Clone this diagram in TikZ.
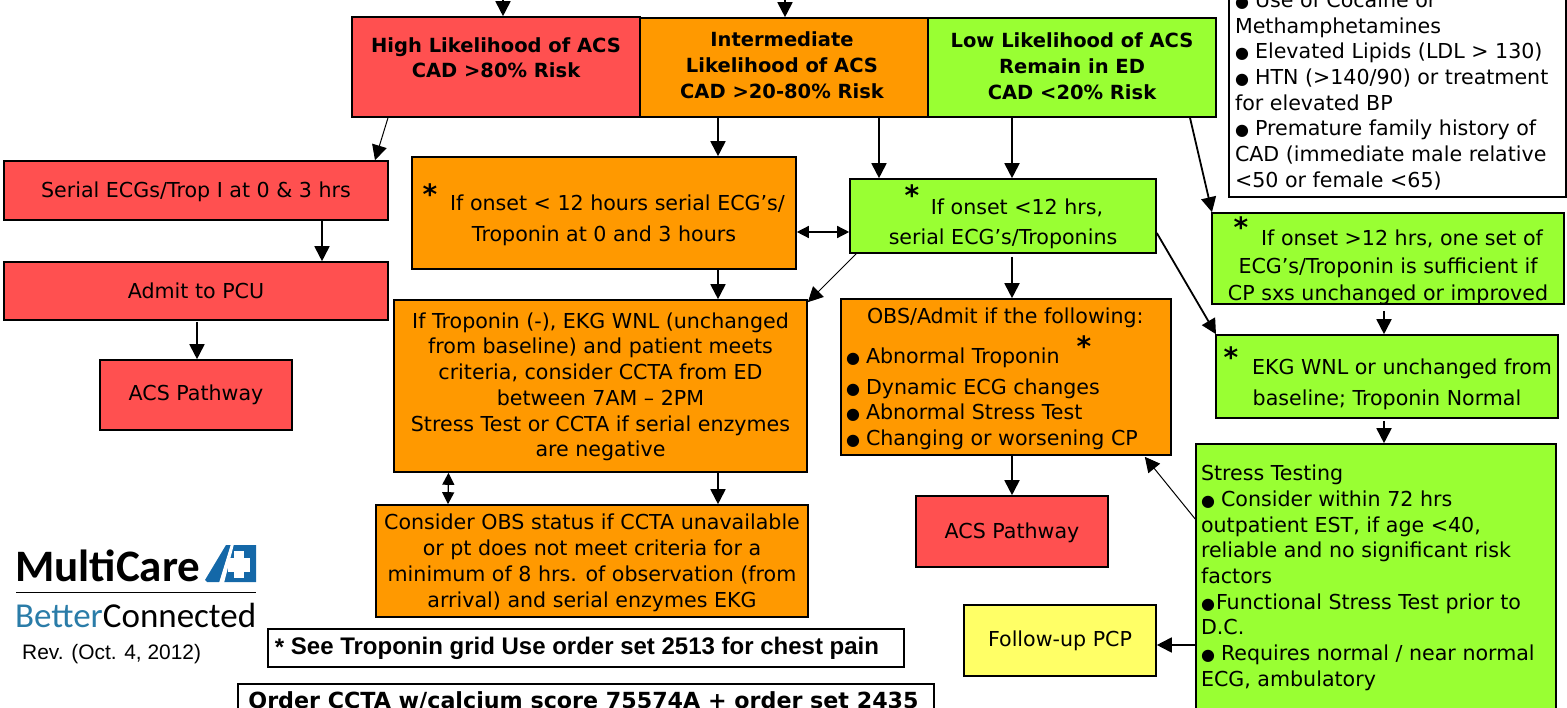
\documentclass[tikz,border=0pt]{standalone}
\usepackage{fontspec}
\usetikzlibrary{arrows.meta}
\setmainfont{DejaVu Sans}
\newfontfamily\helv{Liberation Sans}
\newfontfamily\logofont{Carlito}
\definecolor{cred}{HTML}{FF5050}
\definecolor{corange}{HTML}{FF9900}
\definecolor{cgreen}{HTML}{99FF33}
\definecolor{cyellow}{HTML}{FFFF66}
\definecolor{logoblue}{HTML}{1468A8}
\definecolor{logoteal}{HTML}{2A7CA8}
% text block placed relative to the node centre, not affecting node size
\newcommand{\ml}[5]{\raisebox{\dimexpr#2pt-6pt\relax}[0pt][0pt]{\makebox[0pt]{\hspace{#1pt}\hspace{#1pt}\parbox[c]{#4pt}{#3\fontsize{20.6}{25.7}\selectfont #5}}}}
\newcommand{\bl}{\makebox[20pt][l]{\fontsize{16}{16}\selectfont ●}}
\newcommand{\bln}{\makebox[15pt][l]{\fontsize{16}{16}\selectfont ●}}
\newcommand{\bfs}{\fontsize{19.5}{25.7}\selectfont}
\tikzset{
  x=1pt,y=-1pt,
  box/.style={draw=black,line width=1.6pt,inner sep=0pt,font=\fontsize{20.6}{25.7}\selectfont},
  redbox/.style={box,fill=cred},
  orangebox/.style={box,fill=corange},
  greenbox/.style={box,fill=cgreen},
  yellowbox/.style={box,fill=cyellow},
  whitebox/.style={box,fill=white},
  star/.style={inner sep=0pt,font=\fontsize{28}{28}\selectfont\bfseries},
  arr/.style={draw=black,line width=1.8pt,-{Triangle[width=15pt,length=15pt]}},
  thinarr/.style={draw=black,line width=1pt,-{Triangle[width=15pt,length=15pt]}},
  darr/.style={draw=black,line width=1.4pt,{Triangle[width=12pt,length=12pt]}-{Triangle[width=12pt,length=12pt]}},
}
\begin{document}
\begin{tikzpicture}
\path[use as bounding box,clip] (0,0) rectangle (1567,708);
\coordinate (top1) at (503,-5);
\coordinate (top2) at (785,-5);

\node[redbox,minimum width=288pt,minimum height=100pt] (high) at (496,67) {\ml{0}{10}{\centering\bfseries}{288}{\bfs High Likelihood of ACS\\CAD >80\% Risk}};
\node[orangebox,minimum width=288pt,minimum height=99pt] (inter) at (784,67.5) {\ml{-2}{3}{\centering\bfseries}{288}{\bfs Intermediate\\Likelihood of ACS\\CAD >20-80\% Risk}};
\node[greenbox,minimum width=288pt,minimum height=99pt] (low) at (1072,67.5) {\ml{0}{2}{\centering\bfseries}{288}{\bfs Low Likelihood of ACS\\Remain in ED\\CAD <20\% Risk}};
\node[whitebox,minimum width=337pt,minimum height=260pt] (risk) at (1397.5,67) {\ml{1}{-23}{\raggedright}{327}{\bl Use of Cocaine or\\Methamphetamines\\\bl Elevated Lipids (LDL > 130)\\\bl HTN (>140/90) or treatment\\for elevated BP\\\bl Premature family history of\\CAD (immediate male relative\\<50 or female <65)}};

\node[redbox,minimum width=384pt,minimum height=59pt] (serial) at (196,190.5) {\ml{0}{-1}{\centering}{384}{Serial ECGs/Trop I at 0 \& 3 hrs}};
\node[redbox,minimum width=384pt,minimum height=58pt] (admit) at (196,291) {\ml{0}{1}{\centering}{384}{Admit to PCU}};
\node[redbox,minimum width=192pt,minimum height=70pt] (acsa) at (196,395) {\ml{0}{1}{\centering}{192}{ACS Pathway}};

\node[orangebox,minimum width=384pt,minimum height=112pt] (onseto) at (604,213) {\ml{0}{-7}{\centering}{384}{\fontsize{20.6}{31}\selectfont \hspace*{27pt}If onset < 12 hours serial ECG’s/\\Troponin at 0 and 3 hours}};
\node[greenbox,minimum width=306pt,minimum height=74pt] (onsetg) at (1003,216) {\ml{0}{-7}{\centering}{306}{\fontsize{20.6}{30}\selectfont \hspace*{28pt}If onset <12 hrs,\\serial ECG’s/Troponins}};
\node[greenbox,minimum width=352pt,minimum height=91pt] (later) at (1388,258.5) {\ml{0}{-8.5}{\centering}{352}{\fontsize{20.6}{27.5}\selectfont \hspace*{28pt}If onset >12 hrs, one set of\\ECG’s/Troponin is sufficient if\\CP sxs unchanged or improved}};
\node[greenbox,minimum width=342pt,minimum height=83pt] (ekg) at (1387,376.5) {\ml{0}{-7.5}{\centering}{342}{\fontsize{20.6}{31}\selectfont \hspace*{30pt}EKG WNL or unchanged from\\baseline; Troponin Normal}};

\node[orangebox,minimum width=413pt,minimum height=172pt] (trop) at (600.5,386) {\ml{0}{0}{\centering}{413}{If Troponin (-), EKG WNL (unchanged\\from baseline) and patient meets\\criteria, consider CCTA from ED\\between 7AM – 2PM\\Stress Test or CCTA if serial enzymes\\are negative}};
\node[orangebox,minimum width=330pt,minimum height=156pt] (obs) at (1006,377) {\ml{0}{-1}{\raggedright}{320}{\hspace*{21pt}OBS/Admit if the following:\\[14.3pt]\bl Abnormal Troponin\\[5.3pt]\bl Dynamic ECG changes\\\bl Abnormal Stress Test\\\bl Changing or worsening CP}};
\node[redbox,minimum width=192pt,minimum height=71pt] (acsb) at (1012,531.5) {\ml{0}{-1}{\centering}{192}{ACS Pathway}};
\node[orangebox,minimum width=432pt,minimum height=112pt] (cons) at (592,561) {\ml{0}{-1}{\centering}{432}{Consider OBS status if CCTA unavailable\\or pt does not meet criteria for a\\minimum of 8 hrs. of observation (from\\arrival) and serial enzymes EKG}};
\node[greenbox,minimum width=360pt,minimum height=290pt] (stress) at (1376,589) {\ml{0}{12}{\raggedright}{350}{Stress Testing\\\bl Consider within 72 hrs\\outpatient EST, if age <40,\\reliable and no significant risk\\factors\\\bln Functional Stress Test prior to\\D.C.\\\bl Requires normal / near normal\\ECG, ambulatory}};
\node[yellowbox,minimum width=192pt,minimum height=71pt] (follow) at (1060,640.5) {\ml{0}{0}{\centering}{192}{Follow-up PCP}};

\node[whitebox,minimum width=636pt,minimum height=38pt,font=\helv\bfseries\fontsize{24}{26}\selectfont] (see) at (586,648) {\hspace{-18pt}{\raisebox{-1pt}{*}} See Troponin grid Use order set 2513 for chest pain};
\node[whitebox,minimum width=696pt,minimum height=40pt,font=\bfseries\fontsize{22.2}{26}\selectfont] (order) at (586,704) {\hspace{-5pt}\raisebox{8pt}{Order CCTA w/calcium score 75574A + order set 2435}};

% asterisks
\node[star] (s1) at (430,194) {*};
\node[star] (s2) at (912,195) {*};
\node[star] (s3) at (1241,227) {*};
\node[star] (s4) at (1231,357) {*};
\node[star] (s5) at (1084,346) {*};

% connectors
\draw[arr] (top1) -- ([xshift=7pt]high.north);
\draw[arr] (top2) -- ([xshift=1pt]inter.north);
\draw[thinarr] ([xshift=-108pt]high.south) -- ([xshift=179pt]serial.north);
\draw[arr] ([xshift=-66pt]inter.south) -- ([xshift=114pt]onseto.north);
\draw[arr] ([xshift=95pt]inter.south) -- ([xshift=-124pt]onsetg.north);
\draw[arr] ([xshift=-60pt]low.south) -- ([xshift=9pt]onsetg.north);
\draw[arr] ([xshift=118pt]low.south) -- ([xshift=-176pt]later.north);
\draw[arr] ([xshift=126pt]serial.south) -- ([xshift=126pt]admit.north);
\draw[arr] ([xshift=1pt,yshift=-1pt]admit.south) -- ([xshift=1pt]acsa.north);
\draw[darr] ([yshift=-19pt]onseto.east) -- ([yshift=-16pt]onsetg.west);
\draw[arr] ([xshift=114pt]onseto.south) -- ([xshift=117.5pt]trop.north);
\draw[thinarr] ([xshift=7pt]onsetg.south west) -- ([yshift=-3pt]trop.north east);
\draw[arr] ([xshift=9pt,yshift=-3pt]onsetg.south) -- ([xshift=6pt]obs.north);
\draw[arr] ([yshift=-17pt]onsetg.east) -- ([xshift=-171pt]ekg.north);
\draw[arr] ([xshift=-4pt,yshift=-6pt]later.south) -- ([xshift=-3pt]ekg.north);
\draw[arr] ([xshift=-3pt,yshift=-2pt]ekg.south) -- ([xshift=8pt]stress.north);
\draw[thinarr] ([yshift=70pt]stress.west) -- ([xshift=-27pt,yshift=-1pt]obs.south east);
\draw[arr] ([yshift=-56pt]stress.west) -- ([yshift=-4.5pt]follow.east);
\draw[arr] ([xshift=6pt]obs.south) -- (acsb.north);
\draw[darr] ([xshift=-152pt]trop.south) -- ([xshift=-144pt]cons.north);
\draw[arr] ([xshift=117.5pt]trop.south) -- ([xshift=126pt]cons.north);

% logo
\node[inner sep=0pt,anchor=base west,font=\logofont\bfseries\fontsize{45}{49}\selectfont] (mc) at (15,581) {MultiCare};
\node[inner sep=0pt,anchor=base west,font=\logofont\fontsize{35}{40}\selectfont] (bc) at (15,627) {\textcolor{logoteal}{Better}Connected};
\draw[line width=1pt] (16,592.5) -- (256,592.5);
\fill[logoblue] (205,580) -- (226,545) -- (256,545) -- (256,582) -- (207,582) -- cycle;
\fill[white] (219,583) -- (231,544) -- (234,544) -- (224,583) -- cycle;
\fill[white] (228,558) rectangle (250,572);
\fill[white] (234,551) rectangle (244,578);
\node[inner sep=0pt,anchor=base west,font=\helv\fontsize{20.9}{22}\selectfont] (rev) at (22,659) {Rev. (Oct. 4, 2012)};
\end{tikzpicture}
\end{document}
